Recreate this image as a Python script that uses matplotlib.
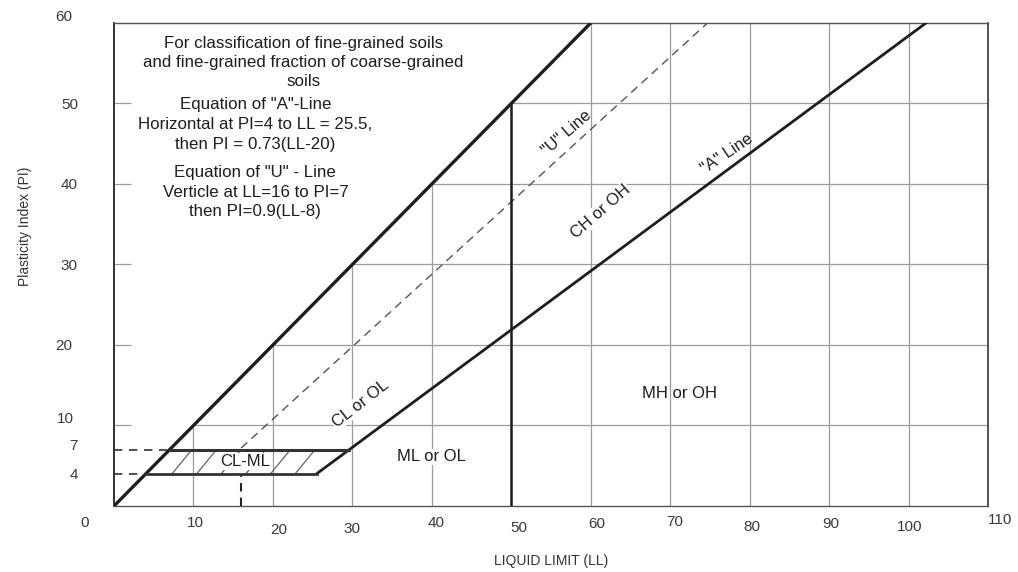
import numpy as np
import matplotlib
matplotlib.use("Agg")
import matplotlib.pyplot as plt
from matplotlib.patches import Polygon
from matplotlib.collections import LineCollection
from matplotlib.transforms import ScaledTranslation

plt.rcParams["font.family"] = ["Liberation Sans", "DejaVu Sans"]

# axis ranges and ticks
ll_max = 110
pi_max = 60
x_ticks = [10, 20, 30, 40, 50, 60, 70, 80, 90, 100, 110]
y_ticks = [0, 4, 7, 10, 20, 30, 40, 50, 60]
grid_ll = [10, 20, 30, 40, 50, 60, 70, 80, 90, 100]
grid_pi = [10, 20, 30, 40, 50]

# chart lines (LL, PI)
upper_ll = [0, 60]
upper_pi = [0, 60]
a_line_ll = [25.5, 102.2]
a_line_pi = [4, 60]
u_line_ll = [16, 74.7]
u_line_pi = [7.2, 60]
clml_top_ll = [7, 29.6]
clml_top_pi = [7, 7]
clml_bot_ll = [4, 25.5]
clml_bot_pi = [4, 4]
ll50_ll = [50, 50]
ll50_pi = [0, 50]

note_top = ["For classification of fine-grained soils",
            "and fine-grained fraction of coarse-grained",
            "soils"]
note_a = ['Equation of "A"-Line',
          "Horizontal at PI=4 to LL = 25.5,",
          "then PI = 0.73(LL-20)"]
note_u = ['Equation of "U" - Line',
          "Verticle at LL=16 to PI=7",
          "then PI=0.9(LL-8)"]

fig = plt.figure(figsize=(10.18, 5.72), dpi=100)
ax = fig.add_axes([0.112, 0.1154, 0.8585, 0.8444])
ax.set_xlim(0, ll_max)
ax.set_ylim(0, pi_max)

ink = "#1e1e1e"
grid_col = "#9c9c9c"

# gridlines only in the region below the upper boundary line
grid_clip = Polygon([(0, 0), (ll_max, 0), (ll_max, pi_max), (upper_ll[1], pi_max)],
                    closed=True, transform=ax.transData)
vg = ax.vlines(grid_ll, 0, pi_max, colors=grid_col, lw=0.9, zorder=1)
hg = ax.hlines(grid_pi, 0, ll_max, colors=grid_col, lw=0.9, zorder=1)
vg.set_clip_path(grid_clip)
hg.set_clip_path(grid_clip)
# small stubs on the left edge
ax.hlines(grid_pi, 0, 2.2, colors=grid_col, lw=0.9, zorder=1)

# main lines
ax.plot(upper_ll, upper_pi, color=ink, lw=2.4, solid_capstyle="butt", zorder=4)
ax.plot(a_line_ll, a_line_pi, color=ink, lw=2.0, zorder=4)
ax.plot(u_line_ll, u_line_pi, color="#555555", lw=1.0, ls=(0, (6, 4)), zorder=3)
ax.plot(clml_top_ll, clml_top_pi, color="#333333", lw=2.2, zorder=4)
ax.plot(clml_bot_ll, clml_bot_pi, color="#333333", lw=2.0, zorder=4)
ax.plot(ll50_ll, ll50_pi, color=ink, lw=1.8, zorder=4)

# dashed guides at PI=4, PI=7 and LL=16
ax.plot([0, clml_top_ll[0]], [7, 7], color="#333333", lw=1.2, ls=(0, (5, 4)), zorder=3)
ax.plot([0, clml_bot_ll[0]], [4, 4], color="#333333", lw=1.2, ls=(0, (5, 4)), zorder=3)
ax.plot([u_line_ll[0], u_line_ll[0]], [0, 4], color="#222222", lw=1.5, ls=(0, (4, 3)), zorder=3)

# hatching of the CL-ML band
band = Polygon([(clml_bot_ll[0], 4), (clml_bot_ll[1], 4), (clml_top_ll[1], 7), (clml_top_ll[0], 7)],
               closed=True, transform=ax.transData)
starts = np.arange(7.3, 24.5, 3.1)
segs = [[(s, 4), (s + 2.5, 7)] for s in starts]
hatch = LineCollection(segs, colors="#666666", lw=0.9, zorder=2)
ax.add_collection(hatch)
hatch.set_clip_path(band)

# explanatory notes
note_style = dict(ha="center", va="center", fontsize=12.2, color=ink)
ax.text(23.8, 55.1, "\n".join(note_top), linespacing=1.32, **note_style)
ax.text(17.8, 47.4, "\n".join(note_a), linespacing=1.44, **note_style)
ax.text(17.8, 39.0, "\n".join(note_u), linespacing=1.36, **note_style)

# region labels
wb = dict(facecolor="white", edgecolor="none", pad=0.6)
lab = dict(ha="center", va="center", color=ink, fontsize=12, rotation_mode="anchor")
ax.text(31.0, 12.7, "CL or OL", rotation=38, bbox=wb, zorder=5, **lab)
ax.text(16.5, 5.5, "CL-ML", bbox=wb, zorder=5, **lab)
ax.text(40.0, 6.1, "ML or OL", bbox=wb, zorder=5, **lab)
ax.text(71.2, 14.0, "MH or OH", zorder=5, **lab)
ax.text(61.2, 36.6, "CH or OH", rotation=41, bbox=wb, zorder=5, **lab)
ax.text(57.0, 46.3, '"U" Line', rotation=41, zorder=5, **lab)
ax.text(77.2, 43.7, '"A" Line', rotation=34, zorder=5, **lab)

# ticks
ax.set_xticks(x_ticks)
ax.set_xticklabels([str(v) for v in x_ticks])
ax.set_yticks(y_ticks)
ax.set_yticklabels([str(v) for v in y_ticks])
ax.tick_params(axis="both", length=0, labelsize=11, labelcolor="#3a3a3a")
ax.tick_params(axis="x", pad=8)
ax.tick_params(axis="y", pad=26)

# hand-placed look of the original tick labels (offsets in pixels)
y_shift = {"0": (11, -16), "7": (0, 5), "10": (-4, 8), "20": (-6, 0), "60": (-6, 7)}
for lbl in ax.get_yticklabels():
    dx, dy = y_shift.get(lbl.get_text(), (0, 0))
    lbl.set_transform(lbl.get_transform() + ScaledTranslation(dx / 100, dy / 100, fig.dpi_scale_trans))
x_shift = {"10": (2, 1), "20": (6, -6), "30": (0, -5), "40": (4, 1), "50": (8, -4),
           "60": (6, 0), "70": (5, 2), "80": (2, -3), "90": (2, 0), "100": (1, -3), "110": (12, 4)}
for lbl in ax.get_xticklabels():
    dx, dy = x_shift.get(lbl.get_text(), (0, 0))
    lbl.set_transform(lbl.get_transform() + ScaledTranslation(dx / 100, dy / 100, fig.dpi_scale_trans))

ax.set_xlabel("LIQUID LIMIT (LL)", fontsize=10, color="#333333", labelpad=12)
ax.set_ylabel("Plasticity Index (PI)", fontsize=10, color="#333333")
ax.yaxis.set_label_coords(-0.094, 0.58)

for side, col, w in [("left", "#222222", 1.3), ("right", "#333333", 1.2),
                     ("top", "#555555", 1.0), ("bottom", "#555555", 1.0)]:
    ax.spines[side].set_color(col)
    ax.spines[side].set_linewidth(w)

fig.savefig("out.png", dpi=100)
